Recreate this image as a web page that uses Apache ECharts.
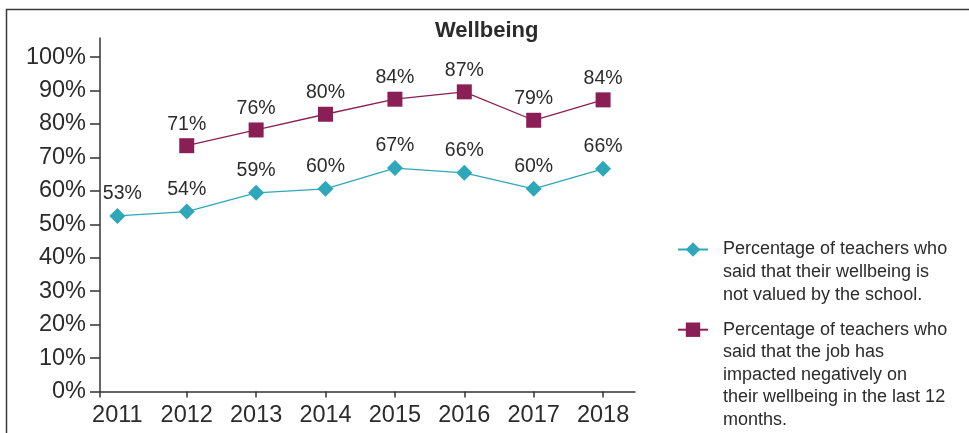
<!DOCTYPE html>
<html><head><meta charset="utf-8">
<script src="https://cdn.jsdelivr.net/npm/echarts@6/dist/echarts.min.js"></script>
<style>html,body{margin:0;padding:0;background:#fff}#c{width:969px;height:433px}</style>
</head><body><div id="c"></div>
<script>
// ---- data ----
const years = [2011, 2012, 2013, 2014, 2015, 2016, 2017, 2018];
const yearLabels = ['2011', '2012', '2013', '2014', '2015', '2016', '2017', '2018'];
const notValued = [52.5, 53.8, 59.4, 60.6, 66.8, 65.4, 60.6, 66.6];
const notValuedLabels = ['53%', '54%', '59%', '60%', '67%', '66%', '60%', '66%'];
const impacted = [null, 73.5, 78.2, 82.9, 87.4, 89.6, 81.1, 87.2];
const impactedLabels = ['', '71%', '76%', '80%', '84%', '87%', '79%', '84%'];
const yTicks = [0, 10, 20, 30, 40, 50, 60, 70, 80, 90, 100];
const name1 = 'Percentage of teachers who\nsaid that their wellbeing is\nnot valued by the school.';
const name2 = 'Percentage of teachers who\nsaid that the job has\nimpacted negatively on\ntheir wellbeing in the last 12\nmonths.';
const titleText = 'Wellbeing';

// ---- chart ----
const X_MIN = 2010.75, X_MAX = 2018.46;
const FONT = '"Liberation Sans", Arial, sans-serif';
const TEXT = '#2b2b2b';
const AXIS = '#333333';
const TEAL = '#2ea8b8';
const PURPLE = '#8a1f56';

function pairs(vals, firstOffset) {
  const out = [];
  vals.forEach((v, i) => {
    if (v === null) return;
    const item = { value: [years[i], v], idx: i };
    if (i === 0 && firstOffset) item.label = { offset: firstOffset };
    out.push(item);
  });
  return out;
}
// pad legend text with blank lines so the icon sits beside the first line,
// and indent each line a little further from the icon
function padTop(name) {
  const lines = name.split('\n');
  const blanks = new Array(lines.length - 1).fill('');
  return blanks.concat(lines.map(l => '\u00a0\u00a0' + l)).join('\n');
}

const chart = echarts.init(document.getElementById('c'), null, { renderer: 'canvas' });
chart.setOption({
  animation: false,
  backgroundColor: '#fff',
  textStyle: { fontFamily: FONT },
  title: {
    text: titleText, left: 435, top: 20, padding: 0,
    textStyle: { fontSize: 22, fontWeight: 'bold', color: TEXT, fontFamily: FONT }
  },
  graphic: [{
    type: 'rect', silent: true, z: -1,
    shape: { x: 6.5, y: 9.5, width: 2000, height: 1000 },
    style: { fill: 'none', stroke: '#3a3a3a', lineWidth: 1.5 }
  }],
  grid: { left: 100, right: 334, top: 38, bottom: 41.5, containLabel: false },
  xAxis: {
    type: 'value', min: X_MIN, max: X_MAX,
    splitLine: { show: false },
    axisLine: { show: true, lineStyle: { color: AXIS, width: 1.5 } },
    axisTick: { show: true, length: 6, lineStyle: { color: AXIS, width: 1.5 },
      customValues: [X_MIN].concat(years.slice(1)) },
    axisLabel: {
      customValues: years, margin: 12, fontSize: 23.5, color: TEXT, fontFamily: FONT,
      formatter: v => yearLabels[years.indexOf(Math.round(v))] || ''
    }
  },
  yAxis: {
    type: 'value', min: 0, max: 105.7,
    splitLine: { show: false },
    axisLine: { show: true, onZero: false, lineStyle: { color: AXIS, width: 1.5 } },
    axisTick: { show: true, length: 10, lineStyle: { color: AXIS, width: 1.5 }, customValues: yTicks },
    axisLabel: { customValues: yTicks, margin: 14, fontSize: 23.5, color: TEXT, fontFamily: FONT,
      formatter: v => Math.round(v) + '%' }
  },
  legend: [{
    data: [name1], left: 677, top: 193, padding: 0, selectedMode: false,
    itemWidth: 30, itemHeight: 18, formatter: padTop,
    textStyle: { fontSize: 18, lineHeight: 22.6, color: TEXT, fontFamily: FONT }
  }, {
    data: [name2], left: 677, top: 228, padding: 0, selectedMode: false,
    itemWidth: 30, itemHeight: 18, formatter: padTop,
    textStyle: { fontSize: 18, lineHeight: 22.6, color: TEXT, fontFamily: FONT }
  }],
  series: [{
    name: name1, type: 'line', data: pairs(notValued, [5, 0]),
    symbol: 'diamond', symbolSize: 16,
    itemStyle: { color: TEAL }, lineStyle: { color: TEAL, width: 1.3 },
    label: { show: true, position: 'top', distance: 4, fontSize: 19.5, color: TEXT, fontFamily: FONT,
      formatter: p => notValuedLabels[p.data.idx] }
  }, {
    name: name2, type: 'line', data: pairs(impacted),
    symbol: 'rect', symbolSize: 15,
    itemStyle: { color: PURPLE }, lineStyle: { color: PURPLE, width: 1.3 },
    label: { show: true, position: 'top', distance: 4, fontSize: 19.5, color: TEXT, fontFamily: FONT,
      formatter: p => impactedLabels[p.data.idx] }
  }]
});
</script></body></html>
